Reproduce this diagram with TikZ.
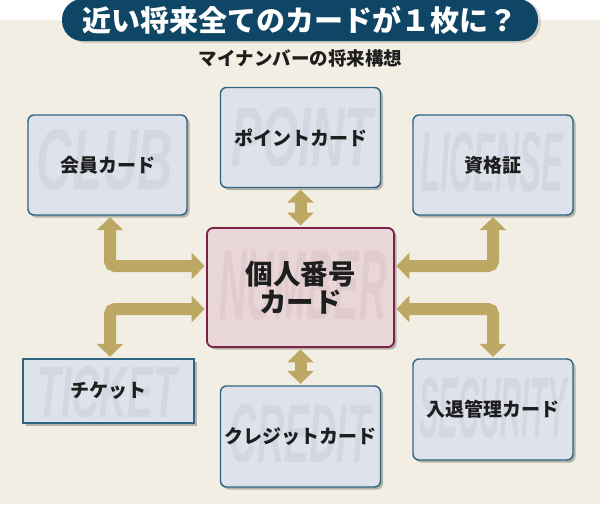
\documentclass[tikz,border=0pt]{standalone}
\usepackage{fontspec}
\usepackage{graphicx}
\setmainfont{Noto Sans CJK JP}
\newfontfamily\wmfont{Liberation Sans}
\usetikzlibrary{arrows.meta}
\definecolor{bg}{HTML}{F2EEE4}
\definecolor{cardfill}{HTML}{DEE2EB}
\definecolor{cardline}{HTML}{2F6482}
\definecolor{numfill}{HTML}{E9D6D9}
\definecolor{numline}{HTML}{7B2346}
\definecolor{wmc}{HTML}{D3D7E1}
\definecolor{wmr}{HTML}{E0CCCF}
\definecolor{gold}{HTML}{BDA863}
\definecolor{pill}{HTML}{0F4565}
\definecolor{ink}{HTML}{1E1E1E}
\newcommand\wmt[3]{\resizebox{#2pt}{#3pt}{\wmfont\bfseries\itshape #1}}
\tikzset{
  card/.style={draw=cardline, line width=1.4pt, fill=cardfill, rounded corners=6pt, inner sep=0pt},
  numcard/.style={card, draw=numline, line width=1.8pt, fill=numfill},
  shad/.style={fill=black, opacity=0.25, draw=none, inner sep=0pt},
  wm/.style={inner sep=0pt, text=wmc},
  lab/.style={inner sep=0pt, text=ink, font=\bfseries\fontsize{19}{22}\selectfont},
  numlab/.style={inner sep=0pt, text=ink, font=\bfseries\fontsize{27.5}{27.5}\selectfont, align=center},
  goldarrow/.style={draw=gold, line width=12pt, rounded corners=5pt,
    {Triangle[width=26pt,length=13pt]}-{Triangle[width=26pt,length=13pt]},
    shorten <=1.5pt, shorten >=1.5pt}
}
\begin{document}
\begin{tikzpicture}[x=1pt,y=-1pt]
\useasboundingbox (0,0) rectangle (600,504);
\fill[white] (0,0) rectangle (600,20);
\fill[bg] (0,20) rectangle (600,504);
% title
\path[fill=black, opacity=0.13, rounded corners=20.5pt] (65,0) rectangle (541,43);
\path[fill=pill, rounded corners=20.5pt] (62,-1) rectangle (538,41);
\node (title) at (300,20.5) [text=white, font=\bfseries\fontsize{29}{30}\selectfont] {近い将来全てのカードが１枚に？};
\node (sub) at (300.5,58) [text=ink, font=\bfseries\fontsize{18.5}{20}\selectfont] {マイナンバーの将来構想};
% shadows
\begin{scope}[shift={(2.5,2.5)}]
\node[shad, rounded corners=6pt, minimum width=159pt, minimum height=100pt] (clubsh) at (107.5,165) {};
\node[shad, rounded corners=6pt, minimum width=160pt, minimum height=100pt] (pointsh) at (300.5,137.5) {};
\node[shad, rounded corners=6pt, minimum width=160pt, minimum height=100pt] (licensesh) at (493,165) {};
\node[shad, rounded corners=6pt, minimum width=187pt, minimum height=119pt] (numsh) at (300.5,287.5) {};
\node[shad, minimum width=171pt, minimum height=64pt] (ticketsh) at (108.5,391) {};
\node[shad, rounded corners=6pt, minimum width=160pt, minimum height=101pt] (creditsh) at (300.5,436.5) {};
\node[shad, rounded corners=6pt, minimum width=160pt, minimum height=101pt] (securitysh) at (493,409.5) {};
\end{scope}
% cards
\node[card, minimum width=159pt, minimum height=100pt] (club) at (107.5,165) {};
\node[card, minimum width=160pt, minimum height=100pt] (point) at (300.5,137.5) {};
\node[card, minimum width=160pt, minimum height=100pt] (license) at (493,165) {};
\node[numcard, minimum width=187pt, minimum height=119pt] (num) at (300.5,287.5) {};
\node[card, rounded corners=0pt, minimum width=171pt, minimum height=64pt] (ticket) at (108.5,391) {};
\node[card, minimum width=160pt, minimum height=101pt] (credit) at (300.5,436.5) {};
\node[card, minimum width=160pt, minimum height=101pt] (security) at (493,409.5) {};
% watermarks
\node[wm, xshift=-2.5pt, yshift=5pt] (clubwm) at (club.center) {\wmt{CLUB}{136}{60}};
\node[wm, xshift=1.5pt] (pointwm) at (point.center) {\wmt{POINT}{141}{59}};
\node[wm, xshift=-1pt, yshift=3pt] (licensewm) at (license.center) {\wmt{LICENSE}{143}{59}};
\node[wm, text=wmr, xshift=2.5pt, yshift=1.5pt] (numwm) at (num.center) {\wmt{NUMBER}{167}{68}};
\node[wm, xshift=-1.5pt, yshift=-1pt] (ticketwm) at (ticket.center) {\wmt{TICKET}{139}{51}};
\node[wm, xshift=-0.5pt, yshift=2.5pt] (creditwm) at (credit.center) {\wmt{CREDIT}{140}{58}};
\node[wm, yshift=1.5pt] (securitywm) at (security.center) {\wmt{SECURITY}{147}{60}};
% labels
\node[lab] (clubl) at (club.center) {会員カード};
\node[lab] (pointl) at (point.center) {ポイントカード};
\node[lab] (licensel) at (license.center) {資格証};
\node[numlab] (numl) at (num.center) {個人番号\\カード};
\node[lab] (ticketl) at (ticket.center) {チケット};
\node[lab] (creditl) at (credit.center) {クレジットカード};
\node[lab] (securityl) at (security.center) {入退管理カード};
% arrows
\coordinate (yA) at (0,266);
\coordinate (yB) at (0,309);
\coordinate (xL) at (110,0);
\coordinate (xR) at (493,0);
\draw[goldarrow] (num.west |- yA) -| (xL |- club.south);
\draw[goldarrow] (num.east |- yA) -| (xR |- license.south);
\draw[goldarrow] (num.west |- yB) -| (xL |- ticket.north);
\draw[goldarrow] (num.east |- yB) -| (xR |- security.north);
\draw[goldarrow] (point.south) -- (point.south |- num.north);
\draw[goldarrow] (num.south) -- (num.south |- credit.north);
\end{tikzpicture}
\end{document}
